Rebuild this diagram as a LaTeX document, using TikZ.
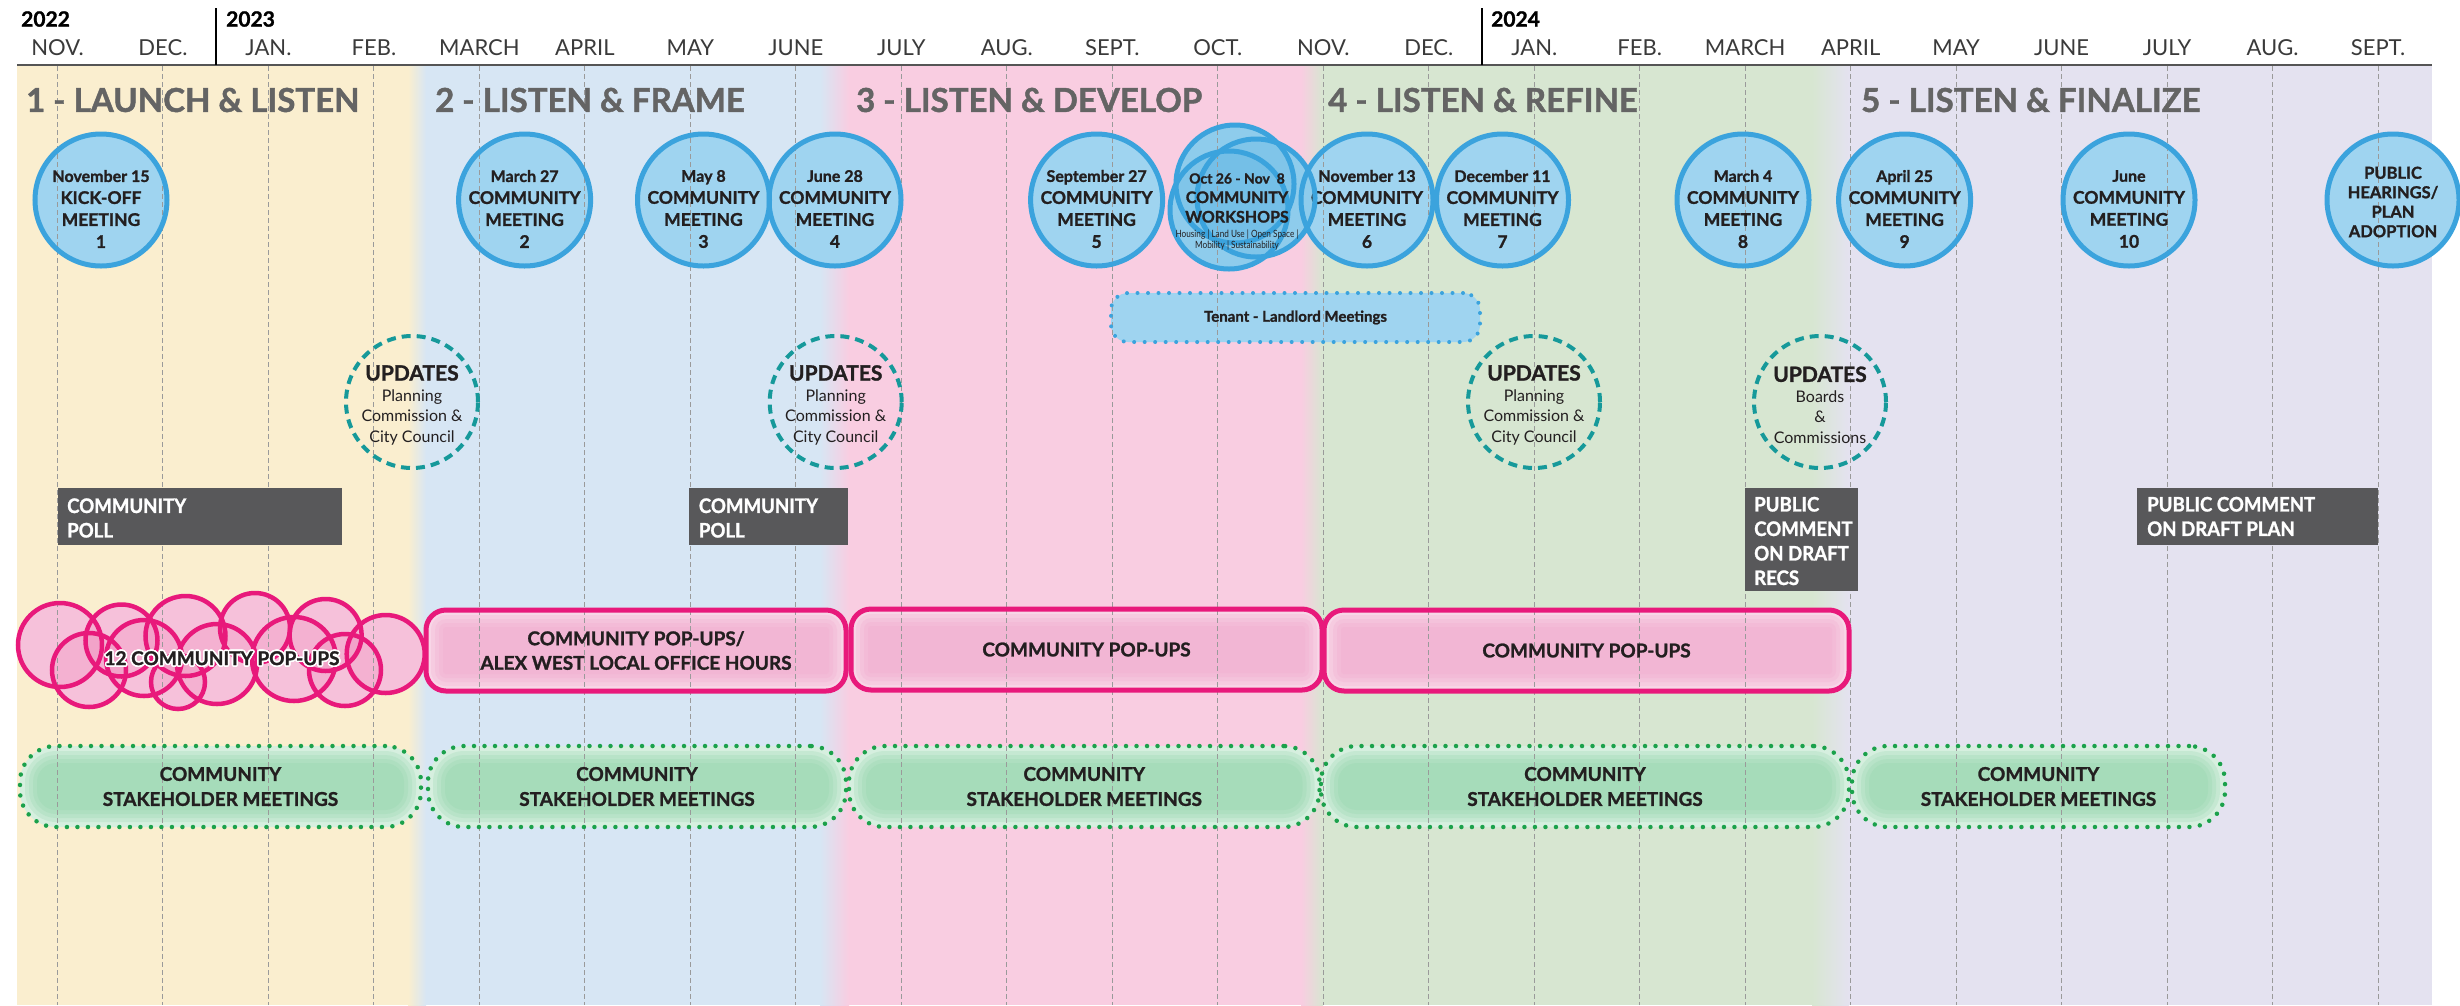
\documentclass[tikz,border=0pt]{standalone}
\usepackage{fontspec}
\setmainfont{Lato}[BoldFeatures={FakeBold=1.3}]
\newfontfamily\condf[FakeStretch=0.82]{Lato}
\newfontfamily\pollf[FakeStretch=0.93,BoldFeatures={FakeBold=1.3}]{Lato}
\usepackage[copies]{contour}
\contourlength{1.6pt}
\usetikzlibrary{calc}
\definecolor{bgyellow}{HTML}{FAEECF}
\definecolor{bgblue}{HTML}{D7E6F4}
\definecolor{bgpink}{HTML}{F9CDE1}
\definecolor{bggreen}{HTML}{D7E6D1}
\definecolor{bglav}{HTML}{E4E2F0}
\definecolor{phasegray}{HTML}{646464}
\definecolor{meetfill}{HTML}{9FD4F0}
\definecolor{meetline}{HTML}{3BA3DD}
\definecolor{tealc}{HTML}{16999A}
\definecolor{pollgray}{HTML}{58585A}
\definecolor{popline}{HTML}{E8197B}
\definecolor{popbase}{HTML}{F8D6E7}
\definecolor{popdark}{HTML}{F0A6CA}
\definecolor{greenbase}{HTML}{D6EFDF}
\definecolor{greendark}{HTML}{8CD3A7}
\definecolor{greendot}{HTML}{1BA14B}
\definecolor{darktext}{HTML}{231F20}
\definecolor{monthtxt}{HTML}{3A3A3A}
\definecolor{gridc}{HTML}{9A9A9A}
\definecolor{headline}{HTML}{555555}
\definecolor{circpink}{HTML}{F8D2E4}
\newcommand\fs[2]{\fontsize{#1}{#2}\selectfont}
\newcommand\datef{\fs{16}{22}}
\pgfdeclarelayer{bg}\pgfdeclarelayer{fills}\pgfdeclarelayer{lines}
\pgfsetlayers{bg,fills,lines,main}
\tikzset{
  meet/.style={circle, draw=meetline, line width=5pt, minimum size=132pt, inner sep=0pt},
  mtext/.style={align=center, text=darktext, font=\bfseries\fs{17.5}{22}, inner sep=0pt},
  upd/.style={circle, draw=tealc, line width=4pt, dash pattern=on 9pt off 6pt, minimum size=132pt, inner sep=0pt},
  utext/.style={align=center, text=darktext, font=\fs{16}{20.5}, inner sep=0pt},
  poll/.style={rectangle, fill=pollgray, inner sep=0pt},
  polltext/.style={anchor=west, align=left, text=white, font=\pollf\bfseries\fs{20}{24.5}, inner sep=0pt},
  popbox/.style={rectangle, rounded corners=20pt, draw=popline, line width=5pt, align=center, text=darktext, font=\bfseries\fs{19}{24.5}},
  stake/.style={rectangle, rounded corners=36pt, draw=greendot, line width=4.5pt, dash pattern=on 0pt off 10.5pt, line cap=round, align=center, text=darktext, font=\bfseries\fs{19}{25}},
  tenantbox/.style={rectangle, rounded corners=17pt, draw=meetline, line width=4pt, dash pattern=on 0pt off 10.5pt, line cap=round, font=\bfseries\fs{15}{18}, text=darktext},
  popc/.style={circle, draw=popline, line width=4.5pt, inner sep=0pt},
  phase/.style={anchor=west, text=phasegray, font=\bfseries\fs{33}{36}, inner sep=0pt},
  monthlbl/.style={text=monthtxt, font=\fs{22}{24}, inner sep=0pt},
  yearlbl/.style={anchor=west, text=black, font=\bfseries\fs{21}{24}, inner sep=0pt},
  mline/.style={draw=gridc, line width=1pt, dash pattern=on 5pt off 3pt}
}
\newcommand\glow[7]{%
\begin{pgfonlayer}{fills}
\fill[#5, rounded corners=#7pt] (#1,#2) rectangle (#3,#4);
\foreach \d in {5,9,13,17}{%
 \pgfmathsetmacro\rr{max(#7-\d,3)}%
 \fill[#6, fill opacity=0.22, rounded corners=\rr pt] ({#1+\d},{#2+\d}) rectangle ({#3-\d},{#4-\d});}
\end{pgfonlayer}}
\newcommand\stakebox[5]{\glow{#2}{#3}{#4}{#5}{greenbase}{greendark}{36}
\node[stake, minimum width={#4-#2}, minimum height={#5-#3}] (#1) at ({(#2+#4)/2},{(#3+#5)/2}) {COMMUNITY\\STAKEHOLDER MEETINGS};}
\newcommand\popb[6]{\glow{#2}{#3}{#4}{#5}{popbase}{popdark}{20}
\node[popbox, minimum width={#4-#2}, minimum height={#5-#3}] (#1) at ({(#2+#4)/2},{(#3+#5)/2}) {#6};}
\newcommand\meeting[5]{%
 \begin{pgfonlayer}{fills}\fill[meetfill] (#2,#3) circle (66pt);\end{pgfonlayer}
 \node[meet] (#1) at (#2,#3) {};
 \node[mtext] (#1t) at ($(#1)+(0,9)$) {{\datef #4}\\#5};}
\newcommand\update[6]{%
 \node[upd] (#1) at (#2,#3) {};
 \node[utext] (#1t) at ($(#1)+(0,3)$) {{\bfseries\fs{21}{24}UPDATES}\\#4\\#5\\#6};}
\begin{document}
\begin{tikzpicture}[x=1pt,y=-1pt]
\useasboundingbox (0,0) rectangle (2460,1005);
\begin{pgfonlayer}{bg}
\fill[white] (0,0) rectangle (2460,1005);
\fill[bgyellow] (17,65) rectangle (408.5,1005);
\shade[left color=bgyellow, right color=bgblue] (408,65) rectangle (426,1005);
\fill[bgblue] (425.5,65) rectangle (820.5,1005);
\shade[left color=bgblue, right color=bgpink] (820,65) rectangle (849,1005);
\fill[bgpink] (848.5,65) rectangle (1301.5,1005);
\shade[left color=bgpink, right color=bggreen] (1301,65) rectangle (1323,1005);
\fill[bggreen] (1322.5,65) rectangle (1812.5,1005);
\shade[left color=bggreen, right color=bglav] (1812,65) rectangle (1849,1005);
\fill[bglav] (1848.5,65) rectangle (2432,1005);
\end{pgfonlayer}
% month grid
\begin{pgfonlayer}{lines}
\foreach \i in {0,...,22}{\draw[mline] ({57.5+105.48*\i},66) -- ({57.5+105.48*\i},1005);}
\end{pgfonlayer}
\foreach \m [count=\i from 0] in {NOV.,DEC.,JAN.,FEB.,MARCH,APRIL,MAY,JUNE,JULY,AUG.,SEPT.,OCT.,NOV.,DEC.,JAN.,FEB.,MARCH,APRIL,MAY,JUNE,JULY,AUG.,SEPT.}{\node[monthlbl] (mon\i) at ({57.5+105.48*\i},48) {\m};}
\draw[headline, line width=2pt] (17,65) -- (2432,65);
\draw[black, line width=2pt] (216,8) -- (216,65);
\draw[black, line width=2pt] (1481.5,8) -- (1481.5,65);
\node[yearlbl] (y22) at (21,19) {2022};
\node[yearlbl] (y23) at (226,19) {2023};
\node[yearlbl] (y24) at (1491,19) {2024};
% phase titles
\node[phase] (ph1) at (26,100) {1 - LAUNCH \& LISTEN};
\node[phase] (ph2) at (435,100) {2 - LISTEN \& FRAME};
\node[phase] (ph3) at (856,100) {3 - LISTEN \& DEVELOP};
\node[phase] (ph4) at (1328,100) {4 - LISTEN \& REFINE};
\node[phase] (ph5) at (1861,100) {5 - LISTEN \& FINALIZE};
% meetings
\meeting{m1}{101}{200}{November 15}{KICK-OFF\\MEETING\\1}
\meeting{m2}{524.6}{200}{March 27}{COMMUNITY\\MEETING\\2}
\meeting{m3}{703.5}{200}{May 8}{COMMUNITY\\MEETING\\3}
\meeting{m4}{835}{200}{June 28}{COMMUNITY\\MEETING\\4}
\meeting{m5}{1096.6}{200}{September 27}{COMMUNITY\\MEETING\\5}
\meeting{m6}{1367}{200}{November 13}{COMMUNITY\\MEETING\\6}
\meeting{m7}{1502.5}{200}{December 11}{COMMUNITY\\MEETING\\7}
\meeting{m8}{1743}{200}{March 4}{COMMUNITY\\MEETING\\8}
\meeting{m9}{1904.6}{200}{April 25}{COMMUNITY\\MEETING\\9}
\meeting{m10}{2129}{200}{June}{COMMUNITY\\MEETING\\10}
\begin{pgfonlayer}{fills}\fill[meetfill] (2393,200) circle (66pt);\end{pgfonlayer}
\node[meet] (m11) at (2393,200) {};
\node[mtext, font=\bfseries\fs{16.5}{19.5}] (m11t) at ($(m11)+(0,2)$) {PUBLIC\\HEARINGS/\\PLAN\\ADOPTION};
% workshops
\begin{pgfonlayer}{fills}
\foreach \x/\y in {1235/184,1256/198,1229/210}{\fill[meetfill] (\x,\y) circle (59pt);}
\foreach \x/\y in {1235/184,1256/198,1229/210}{\fill[meetline, fill opacity=0.16] (\x,\y) circle (59pt);}
\end{pgfonlayer}
\foreach \x/\y [count=\k] in {1235/184,1256/198,1229/210}{\node[meet, minimum size=118pt] (w\k) at (\x,\y) {};}
\node[mtext, font=\bfseries\fs{16}{19.5}] (wt) at (1237,198) {{\fs{14}{19.5}Oct 26 - Nov\ \ 8}\\COMMUNITY\\WORKSHOPS};
\node[utext, font=\condf\fs{10}{11}] (wts) at (1237,240) {Housing | Land Use | Open Space |\\Mobility | Sustainability};
% tenant
\begin{pgfonlayer}{fills}\fill[meetfill, rounded corners=17pt] (1111,293) rectangle (1480,342);\end{pgfonlayer}
\node[tenantbox, minimum width=369, minimum height=49] (tl) at (1295.5,317.5) {Tenant - Landlord Meetings};
% updates
\update{u1}{412}{402}{Planning}{Commission \&}{City Council}
\update{u2}{835.7}{402}{Planning}{Commission \&}{City Council}
\update{u3}{1534}{402}{Planning}{Commission \&}{City Council}
\update{u4}{1820}{402}{Boards}{\&}{Commissions}
% polls
\node[poll, minimum width=284, minimum height=57] (p1) at (199.5,516.5) {};
\node[polltext] (p1t) at (67,518) {COMMUNITY\\POLL};
\node[poll, minimum width=158.7, minimum height=57] (p2) at (768.35,516.5) {};
\node[polltext] (p2t) at (698.7,518) {COMMUNITY\\POLL};
\node[poll, minimum width=113.4, minimum height=103] (p3) at (1801.3,539.5) {};
\node[polltext] (p3t) at (1754,541) {PUBLIC\\COMMENT\\ON DRAFT\\RECS};
\node[poll, minimum width=240.5, minimum height=57] (p4) at (2257.25,516.5) {};
\node[polltext] (p4t) at (2147,516.5) {PUBLIC COMMENT\\ON DRAFT PLAN};
% pop-up cluster
\def\clist{60/645/42,89/670/37,121.5/640.5/36,144/658/38,185.5/636/40,178/682/27,217/664/40,255/628/35,294/659/42,325.6/635/36,345/670/36,385.7/654/39}
\begin{pgfonlayer}{fills}
\foreach \x/\y/\r in \clist {\fill[circpink] (\x,\y) circle (\r pt);}
\foreach \x/\y/\r in \clist {\fill[popline, fill opacity=0.09] (\x,\y) circle (\r pt);}
\end{pgfonlayer}
\foreach \x/\y/\r [count=\k] in \clist {\node[popc, minimum size=2*\r] (pc\k) at (\x,\y) {};}
\node[text=darktext, font=\bfseries\fs{19}{22}, inner sep=0pt] (pct) at (222,659) {\contour{white}{12 COMMUNITY POP-UPS}};
% pop-up boxes
\popb{b2}{426}{610}{846}{691}{COMMUNITY POP-UPS/\\ALEX WEST LOCAL OFFICE HOURS}
\popb{b3}{851}{609}{1322}{690}{COMMUNITY POP-UPS}
\popb{b4}{1324}{610}{1849}{691}{COMMUNITY POP-UPS}
% stakeholder
\stakebox{s1}{20}{746}{421}{827}
\stakebox{s2}{428}{746}{846}{827}
\stakebox{s3}{849}{746}{1319.5}{827}
\stakebox{s4}{1321}{746}{1849}{827}
\stakebox{s5}{1852}{746}{2225}{827}
\end{tikzpicture}
\end{document}
